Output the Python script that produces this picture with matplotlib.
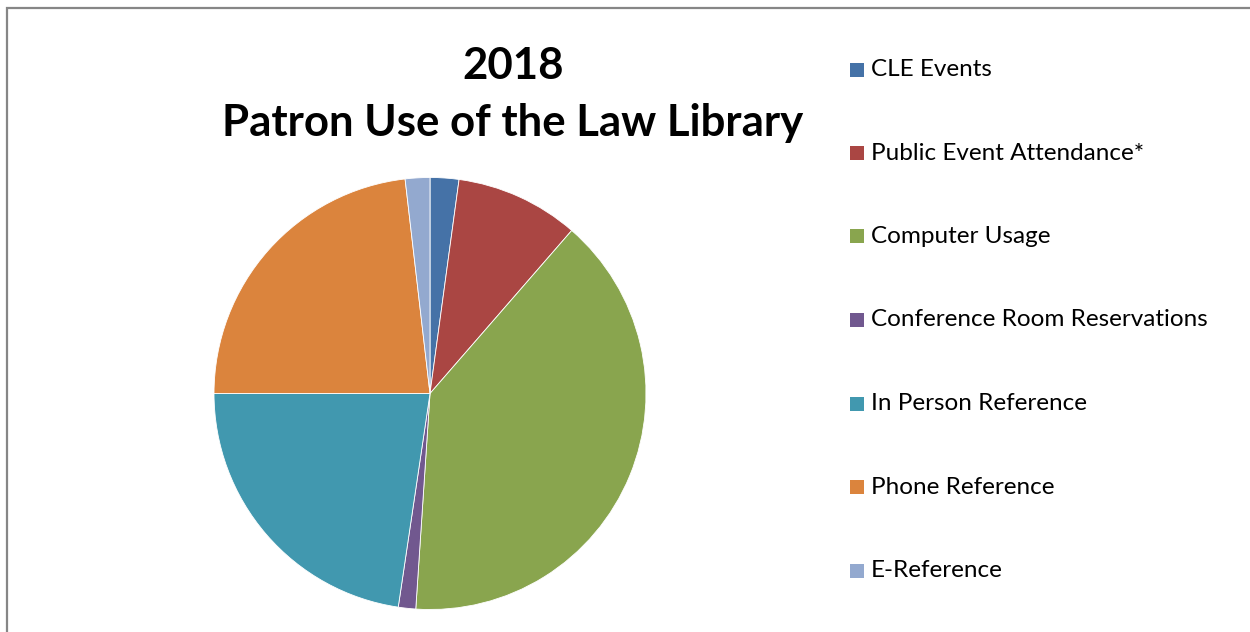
import matplotlib
matplotlib.use("Agg")
import matplotlib.pyplot as plt
from matplotlib.patches import Rectangle

categories = ["CLE Events", "Public Event Attendance*", "Computer Usage",
              "Conference Room Reservations", "In Person Reference",
              "Phone Reference", "E-Reference"]
values = [2.15, 9.24, 39.66, 1.30, 22.65, 23.16, 1.84]
colors = ["#4572A7", "#AA4643", "#89A54E", "#71588F", "#4198AF", "#DB843D", "#93A9CF"]
title_lines = ["2018", "Patron Use of the Law Library"]

W, H = 1250, 632
fig = plt.figure(figsize=(W / 100, H / 100), dpi=100)
fig.patch.set_facecolor("white")

# border
fig.add_artist(Rectangle((7 / W, -0.1), 2.0, (H - 7.5) / H + 0.1,
                         transform=fig.transFigure, fill=False,
                         edgecolor="#868686", lw=1.6))

# pie
cx, cy, r = 430, 393.5, 216
ax = fig.add_axes([(cx - r) / W, (H - cy - r) / H, 2 * r / W, 2 * r / H])
ax.pie(values, colors=colors, startangle=90, counterclock=False, radius=1,
       wedgeprops=dict(edgecolor="white", linewidth=0.6))
ax.set_xlim(-1, 1)
ax.set_ylim(-1, 1)
ax.set_aspect("equal")
ax.axis("off")

# title
fig.text(513 / W, 1 - 66 / H, title_lines[0], ha="center", va="center",
         fontsize=31.5, fontweight="bold", family="Lato")
fig.text(513 / W, 1 - 123 / H, title_lines[1], ha="center", va="center",
         fontsize=31.5, fontweight="bold", family="Lato")

# legend
y0, dy = 69.5, 83.5
for i, (lab, col) in enumerate(zip(categories, colors)):
    y = y0 + i * dy
    fig.add_artist(Rectangle((850 / W, 1 - (y + 7) / H), 14 / W, 14 / H,
                             transform=fig.transFigure, facecolor=col,
                             edgecolor="none"))
    fig.text(871 / W, 1 - y / H, lab, ha="left", va="center",
             fontsize=17.5, family="Lato", color="#000000")

fig.savefig("out.png", dpi=100)
